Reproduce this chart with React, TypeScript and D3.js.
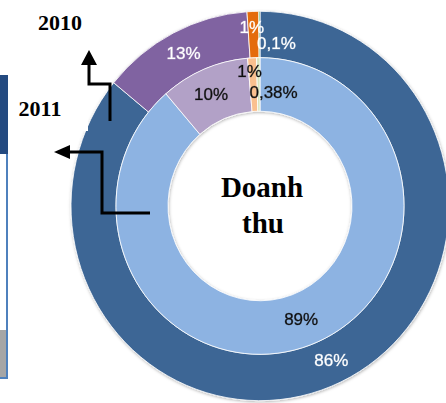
import React from 'react';
import * as d3 from 'd3';

// outer ring = 2010, inner ring = 2011
const outerValues = [86, 13, 1, 0.1];
const outerLabels = ['86%', '13%', '1%', '0,1%'];
const outerColors = ['#3d6695', '#8063a1', '#e46c0a', '#2ca04c'];

const innerValues = [89, 10, 1, 0.38];
const innerLabels = ['89%', '10%', '1%', '0,38%'];
const innerColors = ['#8db3e2', '#b2a1c7', '#fac08f', '#d7e4bd'];

const W = 446;
const H = 403;
const cx = 260;
const cy = 206;
const sy = 1.03;
const rOuter = 189;
const rMid = 144;
const rHole = 92;

// label nudges for the thin slices near 12 o'clock
const outerShift = [[0, 0], [0, 0], [-2, -7], [17, 9]];
const innerShift = [[0, 0], [-3, 0], [-4, -13], [15, 8]];

const pie = d3.pie<number>().sort(null).value((d) => d);

const Ring = ({ values, labels, colors, r0, r1, textColor, haloColor, shift }) => {
  const arcs = pie(values);
  const arc = d3.arc<d3.PieArcDatum<number>>().innerRadius(r0).outerRadius(r1);
  return (
    <g>
      <g transform={`translate(${cx},${cy}) scale(1,${sy})`}>
        {arcs.map((a, i) => (
          <path key={i} d={arc(a) || ''} fill={colors[i]} stroke="#ffffff" strokeWidth={0.8} />
        ))}
      </g>
      {arcs.map((a, i) => {
        const [x, y] = arc.centroid(a);
        return (
          <text
            key={i}
            x={cx + x + shift[i][0]}
            y={cy + y * sy + shift[i][1]}
            textAnchor="middle"
            dominantBaseline="central"
            fill={textColor}
            stroke={haloColor}
            strokeWidth={0.6}
            strokeOpacity={0.5}
            fontFamily="'Liberation Sans', Arial, sans-serif"
            fontSize={17}
          >
            {labels[i]}
          </text>
        );
      })}
    </g>
  );
};

export default function App() {
  return (
    <svg
      width={W}
      height={H}
      style={{ position: 'absolute', left: 0, top: 0, background: '#ffffff' }}
    >
      <defs>
        <filter id="sh" x="-10%" y="-10%" width="120%" height="120%">
          <feDropShadow dx="0.5" dy="1" stdDeviation="1.5" floodColor="#000" floodOpacity="0.3" />
        </filter>
      </defs>

      {/* piece of neighbouring figure on the left edge */}
      <rect x={0} y={75} width={8} height={79} fill="#244a80" />
      <rect x={0} y={330} width={6} height={47} fill="#a6a6a6" />
      <path d="M7,154 V378 H0" fill="none" stroke="#4f81bd" strokeWidth={2} />

      <g filter="url(#sh)">
        <Ring
          values={outerValues}
          labels={outerLabels}
          colors={outerColors}
          r0={rMid}
          r1={rOuter}
          textColor="#ffffff"
          haloColor="#ffffff"
          shift={outerShift}
        />
        <Ring
          values={innerValues}
          labels={innerLabels}
          colors={innerColors}
          r0={rHole}
          r1={rMid}
          textColor="#111111"
          haloColor="#111111"
          shift={innerShift}
        />
      </g>

      <rect x={10} y={88} width={78} height={43} fill="#ffffff" />

      <g fontFamily="'Liberation Serif', 'Times New Roman', serif" fontWeight="bold" fill="#000">
        <text x={60} y={30} fontSize={22} textAnchor="middle">2010</text>
        <text x={40} y={116} fontSize={22} textAnchor="middle">2011</text>
        <text x={262} y={197} fontSize={29} textAnchor="middle">Doanh</text>
        <text x={263} y={233} fontSize={29} textAnchor="middle">thu</text>
      </g>

      <g stroke="#000" strokeWidth={3} fill="none">
        <path d="M110,121 V84 H89 V63" />
        <path d="M150,213 H102 V152 H68" />
      </g>
      <polygon points="81,65 97,65 89,50" fill="#000" />
      <polygon points="70,145 70,159 54,152" fill="#000" />
    </svg>
  );
}
